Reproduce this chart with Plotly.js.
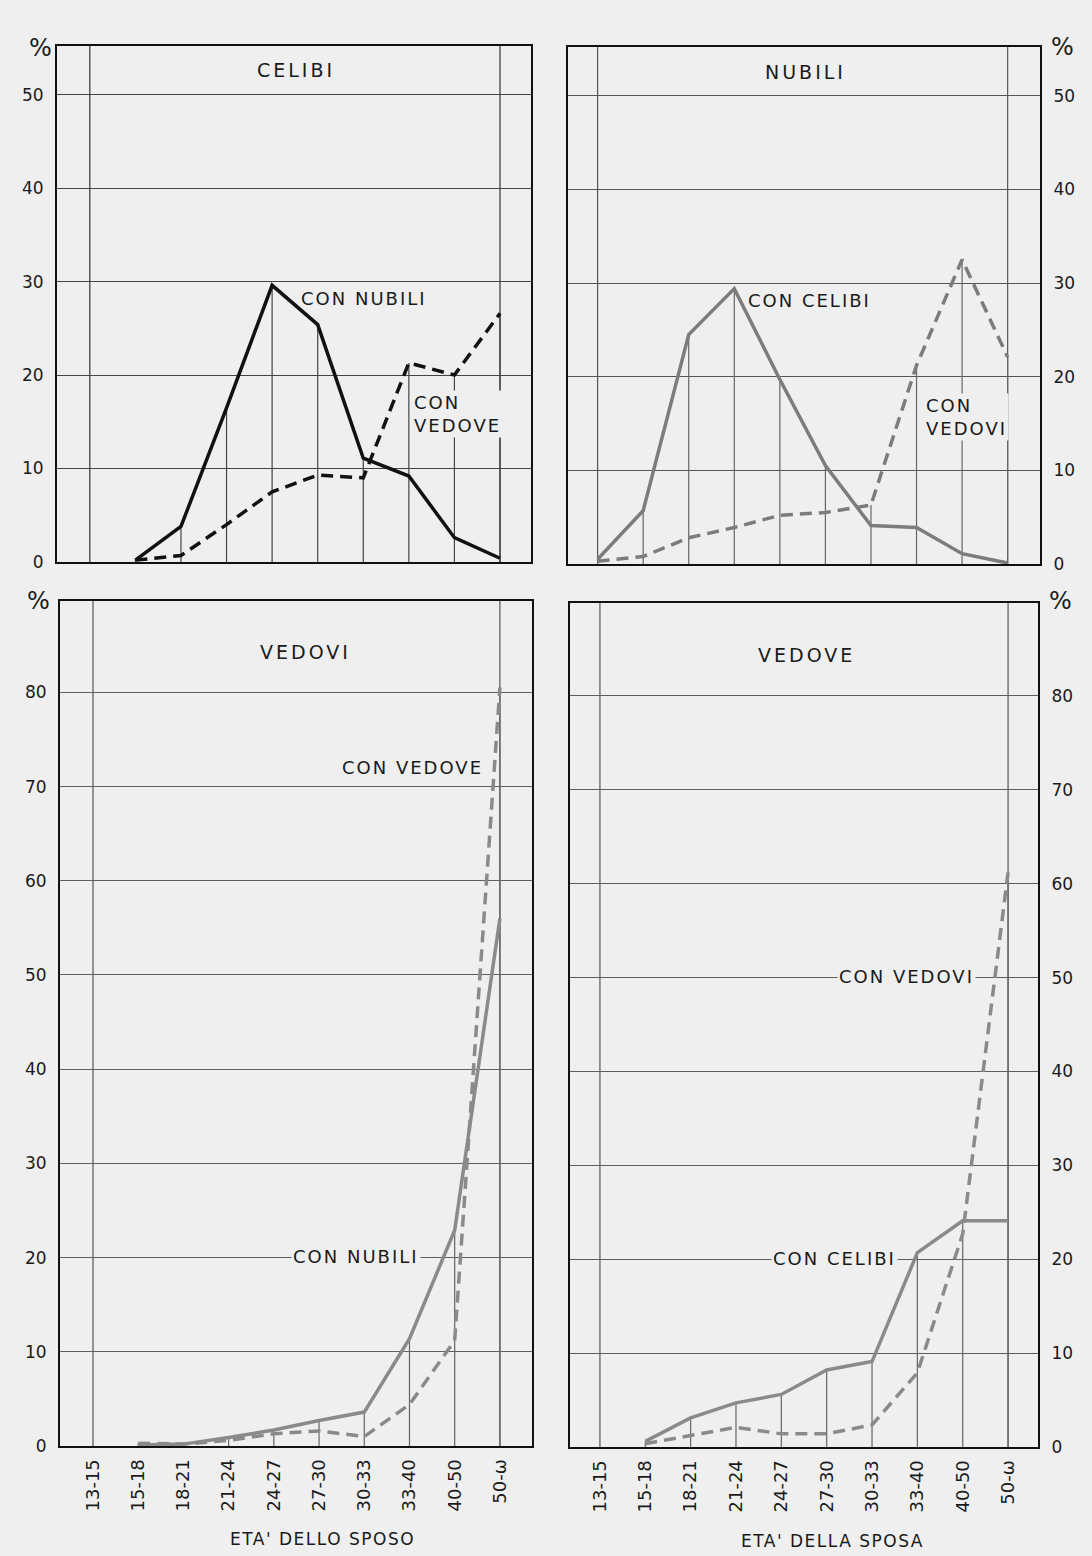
<!DOCTYPE html>
<html>
<head>
<meta charset="utf-8">
<script src="https://cdn.plot.ly/plotly-3.0.1.min.js"></script>
<style>
html,body{margin:0;padding:0;background:#efefef;}
#chart{width:1092px;height:1556px;}
#chart .xtick text{letter-spacing:1px;}
</style>
</head>
<body>
<div id="chart"></div>
<script>
// ---- data ----
const ageGroups = ["13-15","15-18","18-21","21-24","24-27","27-30","30-33","33-40","40-50","50-ω"];

// CELIBI (bachelor grooms)
const celibiConNubili = [null, 0.2, 3.8, 16.5, 29.6, 25.4, 11.1, 9.2, 2.6, 0.4];
const celibiConVedove = [null, 0.2, 0.7, 4.0, 7.5, 9.3, 9.0, 21.3, 20.0, 26.6];

// NUBILI (spinster brides)
const nubiliConCelibi = [0.5, 5.7, 24.5, 29.4, 19.7, 10.5, 4.1, 3.9, 1.1, 0.1];
const nubiliConVedovi = [0.3, 0.8, 2.8, 3.9, 5.2, 5.5, 6.3, 21.2, 32.5, 22.1];

// VEDOVI (widower grooms)
const vedoviConNubili = [null, 0.1, 0.2, 0.9, 1.7, 2.7, 3.6, 11.4, 22.9, 56.0];
const vedoviConVedove = [null, 0.3, 0.2, 0.6, 1.3, 1.6, 1.0, 4.4, 11.2, 80.5];

// VEDOVE (widow brides)
const vedoveConCelibi = [null, 0.6, 3.1, 4.7, 5.6, 8.2, 9.1, 20.7, 24.1, 24.1];
const vedoveConVedovi = [null, 0.35, 1.2, 2.1, 1.4, 1.4, 2.35, 7.9, 22.7, 61.2];

const yTicksTop = [0, 10, 20, 30, 40, 50];
const yTicksBottom = [0, 10, 20, 30, 40, 50, 60, 70, 80];

// ---- helpers ----
const W = 1092, H = 1556;
const px = v => v / W;
const py = v => 1 - v / H;
const BG = '#efefef';
const FONT = 'DejaVu Sans';

function dropLines(a, b, xa, ya, color) {
  const m = a.map((v, i) => (v == null && b[i] == null) ? null : Math.max(v || 0, b[i] || 0));
  return {
    x: ageGroups, y: m, xaxis: xa, yaxis: ya, type: 'scatter', mode: 'markers',
    marker: {size: 1, color: 'rgba(0,0,0,0)'}, hoverinfo: 'skip', showlegend: false,
    error_y: {type: 'data', symmetric: false, array: m.map(() => 0), arrayminus: m,
              width: 0, thickness: 1.2, color: color}
  };
}
function line(y, xa, ya, color, dashed, w) {
  return {x: ageGroups, y: y, xaxis: xa, yaxis: ya, type: 'scatter', mode: 'lines',
          line: {color: color, width: w, dash: dashed ? '12px,7px' : 'solid'},
          showlegend: false, connectgaps: false};
}

const blackLine = '#111111';
const grayTop = '#7c7c7c';
const grayBot = '#8a8a8a';

const data = [
  dropLines(celibiConNubili, celibiConVedove, 'x', 'y', '#444'),
  line(celibiConVedove, 'x', 'y', blackLine, true, 3.5),
  line(celibiConNubili, 'x', 'y', blackLine, false, 3.5),

  dropLines(nubiliConCelibi, nubiliConVedovi, 'x2', 'y2', '#666'),
  line(nubiliConVedovi, 'x2', 'y2', grayTop, true, 3.5),
  line(nubiliConCelibi, 'x2', 'y2', grayTop, false, 3.5),

  dropLines(vedoviConNubili, vedoviConVedove, 'x3', 'y3', '#666'),
  line(vedoviConVedove, 'x3', 'y3', grayBot, true, 3.5),
  line(vedoviConNubili, 'x3', 'y3', grayBot, false, 3.5),

  dropLines(vedoveConCelibi, vedoveConVedovi, 'x4', 'y4', '#666'),
  line(vedoveConVedovi, 'x4', 'y4', grayBot, true, 3.5),
  line(vedoveConCelibi, 'x4', 'y4', grayBot, false, 3.5)
];

function xAxis(domain, range, anchor, showLabels) {
  return {
    domain: domain, range: range, anchor: anchor, type: 'category',
    categoryorder: 'array', categoryarray: ageGroups,
    showgrid: false, zeroline: false, showline: true, mirror: true,
    linecolor: '#111', linewidth: 2, ticks: '',
    showticklabels: showLabels, tickangle: -90,
    tickfont: {family: FONT, size: 18, color: '#1a1a1a'}, ticklabelstandoff: 4
  };
}
function yAxis(domain, range, anchor, side, tickvals, gridcolor) {
  return {
    domain: domain, range: range, anchor: anchor, side: side,
    tickvals: tickvals, ticktext: tickvals.map(String),
    showgrid: true, gridcolor: gridcolor, gridwidth: 1,
    zeroline: false, showline: true, mirror: true, linecolor: '#111', linewidth: 2,
    ticks: '', tickfont: {family: FONT, size: 17, color: '#1a1a1a'}, ticklabelstandoff: 8
  };
}

// vertical full-height lines at first and last age group
function edgeLines(xr, yr, color) {
  return [ageGroups[0], ageGroups[ageGroups.length - 1]].map(c => ({
    type: 'line', xref: xr, yref: yr + ' domain', x0: c, x1: c, y0: 0, y1: 1,
    line: {color: color, width: 1.2}, layer: 'below'
  }));
}

const sp = (t, s) => t.split('<br>').map(p => '<span style="letter-spacing:' + s + 'px">' + p + '</span>').join('<br>');

function ann(text, x, y, opts, spacing) {
  return Object.assign({
    text: sp(text, spacing == null ? 2 : spacing), xref: 'paper', yref: 'paper', x: px(x), y: py(y),
    showarrow: false, xanchor: 'center', yanchor: 'middle',
    font: {family: FONT, size: 18, color: '#1a1a1a'}
  }, opts || {});
}
const titleFont = {family: FONT, size: 19, color: '#1a1a1a'};
const pctFont = {family: FONT, size: 24, color: '#1a1a1a'};
const axFont = {family: FONT, size: 17, color: '#1a1a1a'};

const layout = {
  width: W, height: H,
  margin: {l: 0, r: 0, t: 0, b: 0},
  paper_bgcolor: BG, plot_bgcolor: BG,
  showlegend: false,
  xaxis:  xAxis([px(57), px(531)], [-0.72, 9.68], 'y', false),
  yaxis:  yAxis([py(562), py(46)], [0, 55.2], 'x', 'left', yTicksTop, '#444'),
  xaxis2: xAxis([px(568), px(1040)], [-0.65, 9.71], 'y2', false),
  yaxis2: yAxis([py(564), py(47)], [0, 55.2], 'x2', 'right', yTicksTop, '#555'),
  xaxis3: xAxis([px(60), px(532)], [-0.73, 9.71], 'y3', true),
  yaxis3: yAxis([py(1446), py(601)], [0, 89.7], 'x3', 'left', yTicksBottom, '#5e5e5e'),
  xaxis4: xAxis([px(570), px(1038)], [-0.66, 9.66], 'y4', true),
  yaxis4: yAxis([py(1447), py(603)], [0, 89.9], 'x4', 'right', yTicksBottom, '#5e5e5e'),
  shapes: [].concat(
    edgeLines('x', 'y', '#333'),
    edgeLines('x2', 'y2', '#555'),
    edgeLines('x3', 'y3', '#555'),
    edgeLines('x4', 'y4', '#555')
  ),
  annotations: [
    ann('%', 40, 48, {font: pctFont}, 0),
    ann('%', 1062, 47, {font: pctFont}, 0),
    ann('%', 38, 601, {font: pctFont}, 0),
    ann('%', 1060, 601, {font: pctFont}, 0),

    ann('CELIBI', 296, 70, {font: titleFont}, 3),
    ann('CON NUBILI', 299, 298, {xanchor: 'left'}),
    ann('CON<br>VEDOVE', 412, 414, {xanchor: 'left', align: 'left', bgcolor: BG}),

    ann('NUBILI', 805, 72, {font: titleFont}, 3),
    ann('CON CELIBI', 746, 300, {xanchor: 'left'}),
    ann('CON<br>VEDOVI', 924, 417, {xanchor: 'left', align: 'left', bgcolor: BG}),

    ann('VEDOVI', 305, 652, {font: titleFont}, 3),
    ann('CON VEDOVE', 340, 767, {xanchor: 'left', bgcolor: BG}),
    ann('CON NUBILI', 291, 1256, {xanchor: 'left', bgcolor: BG}),

    ann('VEDOVE', 806, 655, {font: titleFont}, 3),
    ann('CON VEDOVI', 837, 977, {xanchor: 'left', bgcolor: BG}),
    ann('CON CELIBI', 771, 1258, {xanchor: 'left', bgcolor: BG}),

    ann("ETA' DELLO SPOSO", 322, 1539, {font: axFont}, 1.5),
    ann("ETA' DELLA SPOSA", 832, 1541, {font: axFont}, 1.5)
  ]
};

Plotly.newPlot('chart', data, layout, {staticPlot: true, displayModeBar: false});
</script>
</body>
</html>
